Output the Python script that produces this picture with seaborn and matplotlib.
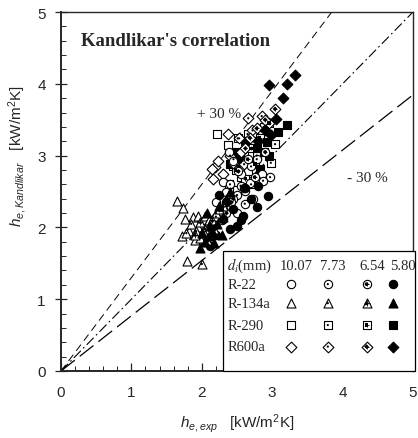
import numpy as np
import pandas as pd
import matplotlib
matplotlib.use("Agg")
import matplotlib.pyplot as plt
import seaborn as sns
from matplotlib.patches import Rectangle
from matplotlib.ticker import MultipleLocator

sns.set_style("ticks")
plt.rcParams['font.family'] = ['Liberation Sans', 'DejaVu Sans']
plt.rcParams['mathtext.fontset'] = 'custom'
plt.rcParams['mathtext.it'] = 'Liberation Sans:italic'
plt.rcParams['mathtext.rm'] = 'Liberation Sans'

refrigerants = ["R-22", "R-134a", "R-290", "R600a"]
diameters = ["10.07", "7.73", "6.54", "5.80"]

# ---- data: (refrigerant, diameter) -> x (h_e,exp), y (h_e,Kandlikar)
r22_1007_x = [2.30, 2.40, 2.61, 2.73, 2.45, 2.55, 2.20, 2.35, 2.50, 2.68, 2.85, 2.38]
r22_1007_y = [2.63, 2.28, 2.51, 2.40, 2.92, 2.75, 2.35, 2.50, 2.20, 2.62, 2.75, 3.05]
r22_773_x = [2.97, 2.87, 2.61, 2.50, 2.40, 2.70, 2.30, 2.78, 2.55, 2.20]
r22_773_y = [2.70, 2.65, 2.33, 2.45, 2.60, 2.85, 2.25, 2.95, 2.58, 2.15]
r22_654_x = [2.45, 2.60, 2.75, 2.35, 2.52, 2.65, 2.90, 2.28, 2.42]
r22_654_y = [2.40, 2.55, 2.70, 2.20, 2.78, 2.95, 3.05, 2.10, 2.35]
r22_580_x = [2.94, 2.80, 2.78, 2.59, 2.50, 2.40, 2.30, 2.12, 2.34, 2.70, 2.62, 2.45, 2.20, 2.05, 2.55, 2.25]
r22_580_y = [2.44, 2.58, 2.28, 2.16, 2.02, 1.98, 2.12, 1.74, 2.35, 2.40, 2.55, 2.25, 1.90, 1.80, 2.10, 2.45]

r134_1007_x = [1.65, 1.73, 1.76, 1.88, 1.95, 2.05, 1.72, 1.79, 1.82, 1.95, 2.10, 1.90]
r134_1007_y = [2.37, 2.27, 2.12, 2.14, 2.16, 2.16, 1.88, 1.53, 1.95, 2.00, 2.10, 1.82]
r134_773_x = [2.00, 1.85, 1.78, 1.98, 2.12, 2.20, 1.92, 2.05]
r134_773_y = [1.49, 2.05, 1.92, 1.85, 2.05, 2.20, 1.95, 1.98]
r134_654_x = [1.90, 2.02, 2.15, 2.25, 2.08, 1.98, 2.30, 2.18]
r134_654_y = [1.90, 1.95, 2.10, 2.25, 1.82, 2.08, 2.30, 1.98]
r134_580_x = [1.98, 2.05, 2.10, 2.15, 2.22, 2.30, 2.00, 2.12, 2.25, 2.35, 2.40, 2.08, 2.18, 2.28]
r134_580_y = [1.72, 1.80, 1.88, 1.95, 2.05, 2.15, 1.92, 2.02, 2.30, 2.40, 2.50, 2.20, 1.78, 1.90]

r290_1007_x = [2.21, 2.37, 2.45, 2.60, 2.72, 2.85, 2.55, 2.38, 2.65, 2.50]
r290_1007_y = [3.30, 3.15, 2.85, 3.05, 3.20, 3.35, 2.70, 2.60, 2.78, 2.52]
r290_773_x = [2.51, 3.04, 2.98, 2.78, 2.65, 2.88, 2.45, 2.70]
r290_773_y = [3.24, 3.16, 2.90, 3.00, 3.30, 3.40, 2.95, 2.60]
r290_654_x = [2.55, 2.70, 2.82, 2.95, 2.62, 2.48, 2.76]
r290_654_y = [2.92, 3.10, 3.25, 3.45, 2.68, 2.80, 2.88]
r290_580_x = [3.21, 3.08, 2.92, 2.83, 2.54, 2.50, 2.70, 2.88, 2.62, 2.95, 2.78, 2.40]
r290_580_y = [3.43, 3.33, 3.19, 2.81, 2.95, 3.05, 2.90, 3.05, 3.20, 3.00, 3.10, 2.88]

r600_1007_x = [2.37, 2.19, 2.16, 2.23, 2.14, 2.30, 2.45, 2.55]
r600_1007_y = [3.30, 2.84, 2.67, 2.93, 2.81, 2.75, 2.90, 3.05]
r600_773_x = [2.66, 2.53, 2.85, 2.40, 2.72, 2.60, 2.95]
r600_773_y = [3.52, 3.24, 3.55, 3.00, 3.35, 2.88, 3.45]
r600_654_x = [3.04, 2.90, 2.78, 2.68, 2.62]
r600_654_y = [3.65, 3.50, 3.38, 3.25, 3.10]
r600_580_x = [2.96, 3.21, 3.32, 3.15, 3.05, 2.90, 2.80, 2.98]
r600_580_y = [3.98, 4.00, 4.12, 3.80, 3.51, 3.35, 3.20, 3.28]

series = {
    ("R-22", "10.07"): (r22_1007_x, r22_1007_y), ("R-22", "7.73"): (r22_773_x, r22_773_y),
    ("R-22", "6.54"): (r22_654_x, r22_654_y), ("R-22", "5.80"): (r22_580_x, r22_580_y),
    ("R-134a", "10.07"): (r134_1007_x, r134_1007_y), ("R-134a", "7.73"): (r134_773_x, r134_773_y),
    ("R-134a", "6.54"): (r134_654_x, r134_654_y), ("R-134a", "5.80"): (r134_580_x, r134_580_y),
    ("R-290", "10.07"): (r290_1007_x, r290_1007_y), ("R-290", "7.73"): (r290_773_x, r290_773_y),
    ("R-290", "6.54"): (r290_654_x, r290_654_y), ("R-290", "5.80"): (r290_580_x, r290_580_y),
    ("R600a", "10.07"): (r600_1007_x, r600_1007_y), ("R600a", "7.73"): (r600_773_x, r600_773_y),
    ("R600a", "6.54"): (r600_654_x, r600_654_y), ("R600a", "5.80"): (r600_580_x, r600_580_y),
}

rows = []
for (ref, d), (xs, ys) in series.items():
    for xv, yv in zip(xs, ys):
        rows.append({"ref": ref, "d": d, "x": xv, "y": yv})
df = pd.DataFrame(rows)

marker_of = {"R-22": "o", "R-134a": "^", "R-290": "s", "R600a": "D"}
size_of = {"R-22": 36, "R-134a": 42, "R-290": 36, "R600a": 30}

fig = plt.figure(figsize=(4.18, 4.39), dpi=100)
ax = fig.add_axes([61 / 418, 67 / 439, 352 / 418, 359 / 439])

# reference lines
xl = np.array([0, 5])
ax.plot(xl, xl, color='black', lw=0.8, dashes=(9, 3, 1.5, 3))
ax.plot(xl, xl * 1.3, color='black', lw=0.7, dashes=(8, 5))
ax.plot(xl, xl / 1.3, color='black', lw=0.9, dashes=(14, 5))


def draw_group(xs, ys, marker, s, d, **kw):
    if d == "5.80":
        ax.scatter(xs, ys, marker=marker, s=s, facecolor='black',
                   edgecolor='black', linewidths=0.8, zorder=kw.pop('z', 3), **kw)
        return
    z = kw.pop('z', 3)
    ax.scatter(xs, ys, marker=marker, s=s, facecolor='white',
               edgecolor='black', linewidths=0.8, zorder=z, **kw)
    if d == "7.73":
        ax.scatter(xs, ys, marker='o', s=2.5, facecolor='black',
                   edgecolor='none', zorder=z + 1, **kw)
    elif d == "6.54":
        ax.scatter(xs, ys, marker=marker, s=s * 0.2, facecolor='black',
                   edgecolor='none', zorder=z + 1, **kw)
        ax.scatter(xs, ys, marker='+', s=s * 0.35, color='black',
                   linewidths=0.6, zorder=z + 1, **kw)


for ref in ["R-290", "R600a", "R-22", "R-134a"]:
    for d in diameters:
        sub = df[(df.ref == ref) & (df.d == d)]
        if d == "10.07":
            sns.scatterplot(data=sub, x="x", y="y", marker=marker_of[ref], s=size_of[ref],
                            facecolor='white', edgecolor='black', linewidth=0.8, ax=ax,
                            zorder=3, legend=False)
        elif d == "5.80":
            sns.scatterplot(data=sub, x="x", y="y", marker=marker_of[ref], s=size_of[ref],
                            facecolor='black', edgecolor='black', linewidth=0.8, ax=ax,
                            zorder=3, legend=False)
        else:
            draw_group(sub.x.values, sub.y.values, marker_of[ref], size_of[ref], d)

ax.set_xlim(0, 5)
ax.set_ylim(0, 5)
ax.xaxis.set_major_locator(MultipleLocator(1))
ax.yaxis.set_major_locator(MultipleLocator(1))
ax.xaxis.set_minor_locator(MultipleLocator(0.2))
ax.yaxis.set_minor_locator(MultipleLocator(0.2))
ax.tick_params(axis='both', which='major', direction='in', length=6, width=0.9,
               labelsize=11, top=False, right=False)
ax.tick_params(axis='x', which='major', pad=10)
ax.tick_params(axis='y', which='major', pad=7, direction='inout', length=8)
ax.tick_params(axis='both', which='minor', direction='in', length=3.5, width=0.7,
               top=False, right=False)
for sp in ['left', 'bottom']:
    ax.spines[sp].set_linewidth(1.4)
for sp in ['top', 'right']:
    ax.spines[sp].set_linewidth(1.0)
    ax.spines[sp].set_visible(True)

ax.set_xlabel(r"$h_{e,exp}$   [kW/m$^2$K]", fontsize=11, math_fontfamily='custom')
ax.set_ylabel(r"$h_{e,Kandlikar}$   [kW/m$^2$K]", fontsize=11, math_fontfamily='custom')
ax.xaxis.set_label_coords(0.5, -0.112)
ax.yaxis.set_label_coords(-0.092, 0.6)

serif = ['Liberation Serif', 'DejaVu Serif']
ax.text(0.28, 4.6, "Kandlikar's correlation", family=serif, fontweight='bold',
        fontsize=13.5, va='center', ha='left')
ax.text(1.93, 3.58, "+ 30 %", family=serif, fontsize=11, va='center', ha='left')
ax.text(4.06, 2.70, "- 30 %", family=serif, fontsize=11, va='center', ha='left')

# legend table
ax.add_patch(Rectangle((0.46, 0.0), 0.545, 0.333, transform=ax.transAxes,
                       facecolor='white', edgecolor='black', lw=0.9, zorder=5,
                       clip_on=False))
row_y = [0.295, 0.242, 0.189, 0.128, 0.068]
col_x = [0.652, 0.758, 0.868, 0.943]
head_x = [0.668, 0.772, 0.884, 0.972]
ax.text(0.472, row_y[0], r"$d_i$(mm)", transform=ax.transAxes, family=serif,
        math_fontfamily='stix', fontsize=10.5, va='center', ha='left', zorder=6)
for hx, d in zip(head_x, diameters):
    ax.text(hx, row_y[0], d, transform=ax.transAxes, family=serif, fontsize=10.5,
            va='center', ha='center', zorder=6)
for ry, ref in zip(row_y[1:], refrigerants):
    ax.text(0.472, ry, ref, transform=ax.transAxes, family=serif, fontsize=10.5,
            va='center', ha='left', zorder=6)
    for cx, d in zip(col_x, diameters):
        draw_group([cx], [ry], marker_of[ref], size_of[ref], d,
                   z=7, transform=ax.transAxes, clip_on=False)

fig.savefig("out.png", dpi=100, facecolor='white')
